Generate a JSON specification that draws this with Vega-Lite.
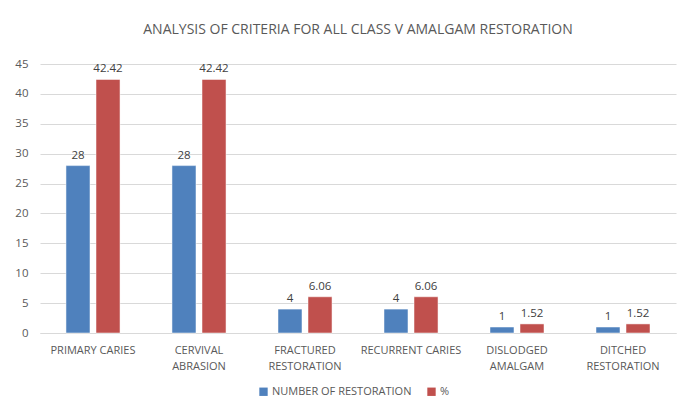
{
  "$schema": "https://vega.github.io/schema/vega-lite/v6.json",
  "width": 636,
  "height": 269,
  "autosize": {"type": "none"},
  "padding": {"left": 40, "top": 64, "right": 19, "bottom": 76},
  "background": "white",
  "config": {
    "font": "Open Sans",
    "view": {"stroke": null},
    "axis": {"labelColor": "#595959", "labelFontSize": 11, "titleColor": "#595959"}
  },
  "title": {
    "text": "ANALYSIS OF CRITERIA FOR ALL CLASS V AMALGAM RESTORATION",
    "fontSize": 14,
    "fontWeight": "normal",
    "color": "#595959",
    "anchor": "middle",
    "offset": 21
  },
  "data": {
    "values": [
      {"criteria": "PRIMARY CARIES", "series": "NUMBER OF RESTORATION", "value": 28, "label": "28"},
      {"criteria": "PRIMARY CARIES", "series": "%", "value": 42.42, "label": "42.42"},
      {"criteria": "CERVIVAL ABRASION", "series": "NUMBER OF RESTORATION", "value": 28, "label": "28"},
      {"criteria": "CERVIVAL ABRASION", "series": "%", "value": 42.42, "label": "42.42"},
      {"criteria": "FRACTURED RESTORATION", "series": "NUMBER OF RESTORATION", "value": 4, "label": "4"},
      {"criteria": "FRACTURED RESTORATION", "series": "%", "value": 6.06, "label": "6.06"},
      {"criteria": "RECURRENT CARIES", "series": "NUMBER OF RESTORATION", "value": 4, "label": "4"},
      {"criteria": "RECURRENT CARIES", "series": "%", "value": 6.06, "label": "6.06"},
      {"criteria": "DISLODGED AMALGAM", "series": "NUMBER OF RESTORATION", "value": 1, "label": "1"},
      {"criteria": "DISLODGED AMALGAM", "series": "%", "value": 1.52, "label": "1.52"},
      {"criteria": "DITCHED RESTORATION", "series": "NUMBER OF RESTORATION", "value": 1, "label": "1"},
      {"criteria": "DITCHED RESTORATION", "series": "%", "value": 1.52, "label": "1.52"}
    ]
  },
  "encoding": {
    "x": {
      "field": "criteria",
      "type": "nominal",
      "sort": null,
      "scale": {"paddingInner": 0.49, "paddingOuter": 0.245},
      "axis": {
        "title": null,
        "labelAngle": 0,
        "domain": true,
        "domainColor": "#d9d9d9",
        "ticks": false,
        "labelPadding": 11,
        "labelLineHeight": 16,
        "labelExpr": "indexof(['PRIMARY CARIES','RECURRENT CARIES'], datum.label) >= 0 ? datum.label : split(datum.label, ' ')"
      }
    },
    "xOffset": {
      "field": "series",
      "type": "nominal",
      "sort": ["NUMBER OF RESTORATION", "%"],
      "scale": {"paddingInner": 0.2, "paddingOuter": 0}
    },
    "y": {
      "field": "value",
      "type": "quantitative",
      "scale": {"domain": [0, 45]},
      "axis": {
        "title": null,
        "values": [0, 5, 10, 15, 20, 25, 30, 35, 40, 45],
        "domain": false,
        "ticks": false,
        "labelPadding": 12,
        "gridColor": "#d9d9d9",
        "labelFontSize": 11.5
      }
    }
  },
  "layer": [
    {
      "mark": {"type": "bar", "stroke": "white", "strokeWidth": 0.5},
      "encoding": {
        "color": {
          "field": "series",
          "type": "nominal",
          "sort": ["NUMBER OF RESTORATION", "%"],
          "scale": {"domain": ["NUMBER OF RESTORATION", "%"], "range": ["#4f81bd", "#c0504d"]},
          "legend": {
            "title": null,
            "orient": "none",
            "legendX": 218,
            "legendY": 322,
            "direction": "horizontal",
            "symbolType": "square",
            "symbolSize": 70,
            "symbolStrokeWidth": 0,
            "labelColor": "#595959",
            "labelFontSize": 11,
            "labelOffset": 3,
            "columnPadding": 14
          }
        }
      }
    },
    {
      "mark": {"type": "text", "baseline": "bottom", "dy": -5, "fontSize": 11.5, "color": "#404040"},
      "encoding": {"text": {"field": "label"}}
    }
  ]
}
